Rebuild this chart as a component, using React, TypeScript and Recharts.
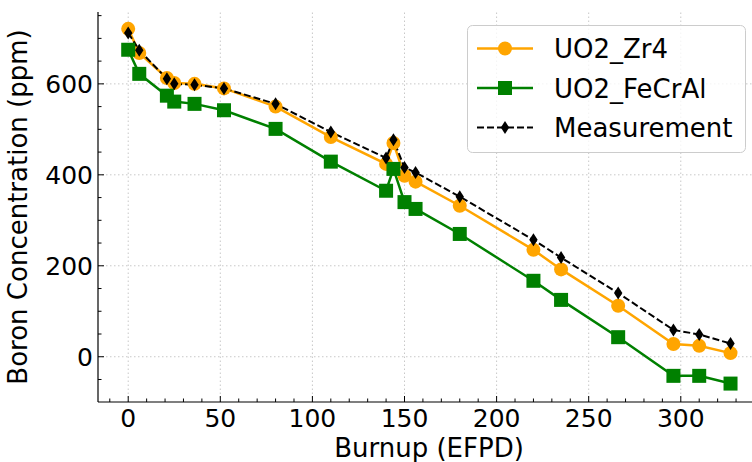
import React from 'react';
import { LineChart, Line, XAxis, YAxis, ReferenceLine } from 'recharts';

// burnup steps (EFPD) shared by all three series
const burnup = [0, 6, 21, 25, 36, 52, 80, 110, 140, 144, 150, 156, 180, 220, 235, 266, 296, 310, 327];
const uo2Zr4 = [721, 668, 613, 602, 600, 590, 550, 483, 424, 470, 398, 385, 332, 235, 192, 112, 28, 24, 8];
const uo2FeCrAl = [675, 622, 574, 561, 556, 542, 501, 429, 365, 413, 340, 325, 270, 167, 125, 43, -42, -42, -59];
const measurement = [712, 674, 611, 600, 598, 590, 556, 494, 437, 477, 416, 405, 352, 257, 218, 140, 59, 49, 29];

const xMajor = [0, 50, 100, 150, 200, 250, 300];
const yMajor = [0, 200, 400, 600];
const xTicks = Array.from({ length: 36 }, (_, i) => -10 + i * 10);
const yTicks = Array.from({ length: 17 }, (_, i) => -50 + i * 50);

const ORANGE = '#FFA500';
const GREEN = '#008000';
const FONT = "'DejaVu Sans', sans-serif";
const TICK_FS = 25;
const TITLE_FS = 26;

const chartData = burnup.map((x, i) => ({
  x,
  zr4: uo2Zr4[i],
  fecral: uo2FeCrAl[i],
  meas: measurement[i],
}));

const series = [
  { key: 'zr4', name: 'UO2_Zr4', color: ORANGE, marker: 'circle', dash: undefined },
  { key: 'fecral', name: 'UO2_FeCrAl', color: GREEN, marker: 'square', dash: undefined },
  { key: 'meas', name: 'Measurement', color: '#000', marker: 'diamond', dash: '7 3' },
];

function Marker({ type, cx, cy, color }: any) {
  if (type === 'circle') return <circle cx={cx} cy={cy} r={7} fill={color} />;
  if (type === 'square') return <rect x={cx - 7} y={cy - 7} width={14} height={14} fill={color} />;
  return <path d={`M${cx},${cy - 6.5}L${cx + 4.2},${cy}L${cx},${cy + 6.5}L${cx - 4.2},${cy}Z`} fill={color} />;
}

// ticks point inward, like matplotlib's direction='in'
function BottomTick({ x, y, payload }: any) {
  const v = payload.value;
  const major = v % 50 === 0;
  return (
    <g>
      <line x1={x} x2={x} y1={y} y2={y - (major ? 6 : 3.5)} stroke="#000" strokeWidth={1} />
      {major && (
        <text x={x} y={y + 24.5} textAnchor="middle" fontSize={TICK_FS} fontFamily={FONT} fill="#000">
          {v}
        </text>
      )}
    </g>
  );
}

function TopTick({ x, y, payload }: any) {
  const major = payload.value % 50 === 0;
  return <line x1={x} x2={x} y1={y} y2={y + (major ? 6 : 3.5)} stroke="#000" strokeWidth={1} />;
}

function LeftTick({ x, y, payload }: any) {
  const v = payload.value;
  const major = v % 200 === 0;
  return (
    <g>
      <line x1={x} x2={x + (major ? 6 : 3.5)} y1={y} y2={y} stroke="#000" strokeWidth={1} />
      {major && (
        <text x={x - 5} y={y + 9} textAnchor="end" fontSize={TICK_FS} fontFamily={FONT} fill="#000">
          {v}
        </text>
      )}
    </g>
  );
}

function YTitle({ viewBox }: any) {
  const vb = viewBox || { x: 0, y: 12, width: 98, height: 390 };
  const cx = vb.x + 27;
  const cy = vb.y + vb.height / 2;
  return (
    <text x={cx} y={cy} transform={`rotate(-90 ${cx} ${cy})`} textAnchor="middle" fontSize={TITLE_FS} fontFamily={FONT} fill="#000">
      Boron Concentration (ppm)
    </text>
  );
}

function XTitle({ viewBox }: any) {
  const vb = viewBox || { x: 98, y: 402, width: 662, height: 60 };
  return (
    <text x={vb.x + vb.width / 2} y={vb.y + 55} textAnchor="middle" fontSize={TITLE_FS} fontFamily={FONT} fill="#000">
      Burnup (EFPD)
    </text>
  );
}

function LegendBox() {
  const rowY = [48.5, 88, 127.5];
  return (
    <svg width={752} height={462} style={{ position: 'absolute', left: 0, top: 0, pointerEvents: 'none' }}>
      <rect x={467.5} y={25.5} width={278} height={127} rx={5} fill="#fff" fillOpacity={0.8} stroke="#cccccc" />
      {series.map((s, i) => (
        <g key={s.key}>
          <line x1={477} x2={533} y1={rowY[i]} y2={rowY[i]} stroke={s.color} strokeWidth={s.dash ? 2 : 2.5} strokeDasharray={s.dash} />
          <Marker type={s.marker} cx={505} cy={rowY[i]} color={s.color} />
          <text x={554} y={rowY[i] + 9.5} fontSize={TITLE_FS} fontFamily={FONT} fill="#000">
            {s.name}
          </text>
        </g>
      ))}
    </svg>
  );
}

export default function App() {
  const spine = { stroke: '#000', strokeWidth: 1.2 };
  return (
    <div style={{ position: 'absolute', left: 0, top: 0, width: 752, height: 462, overflow: 'hidden', background: '#fff' }}>
      <LineChart width={770} height={462} data={chartData} margin={{ top: 12, right: 10, bottom: 0, left: 0 }}>
        <XAxis
          dataKey="x"
          type="number"
          domain={[-16.4, 343]}
          allowDataOverflow
          ticks={xTicks}
          interval={0}
          tickSize={0}
          tickMargin={0}
          tickLine={false}
          axisLine={spine}
          tick={<BottomTick />}
          height={60}
          label={<XTitle />}
        />
        <XAxis
          xAxisId="top"
          orientation="top"
          dataKey="x"
          type="number"
          domain={[-16.4, 343]}
          allowDataOverflow
          ticks={xTicks}
          interval={0}
          tickSize={0}
          tickMargin={0}
          tickLine={false}
          axisLine={spine}
          tick={<TopTick />}
          height={0}
        />
        <YAxis
          type="number"
          domain={[-99.5, 758]}
          allowDataOverflow
          ticks={yTicks}
          interval={0}
          tickSize={0}
          tickMargin={0}
          tickLine={false}
          axisLine={spine}
          tick={<LeftTick />}
          width={98}
          label={<YTitle />}
        />
        {xMajor.map((v) => (
          <ReferenceLine key={`gx${v}`} x={v} stroke="#c8c8c8" strokeDasharray="1.5 2.5" strokeWidth={1} />
        ))}
        {yMajor.map((v) => (
          <ReferenceLine key={`gy${v}`} y={v} stroke="#c8c8c8" strokeDasharray="1.5 2.5" strokeWidth={1} />
        ))}
        {series.map((s) => (
          <Line
            key={s.key}
            type="linear"
            dataKey={s.key}
            name={s.name}
            stroke={s.color}
            strokeWidth={s.dash ? 2 : 2.5}
            strokeDasharray={s.dash}
            isAnimationActive={false}
            activeDot={false}
            dot={(p: any) => <Marker key={`${s.key}-${p.index}`} type={s.marker} cx={p.cx} cy={p.cy} color={s.color} />}
          />
        ))}
      </LineChart>
      <LegendBox />
    </div>
  );
}
